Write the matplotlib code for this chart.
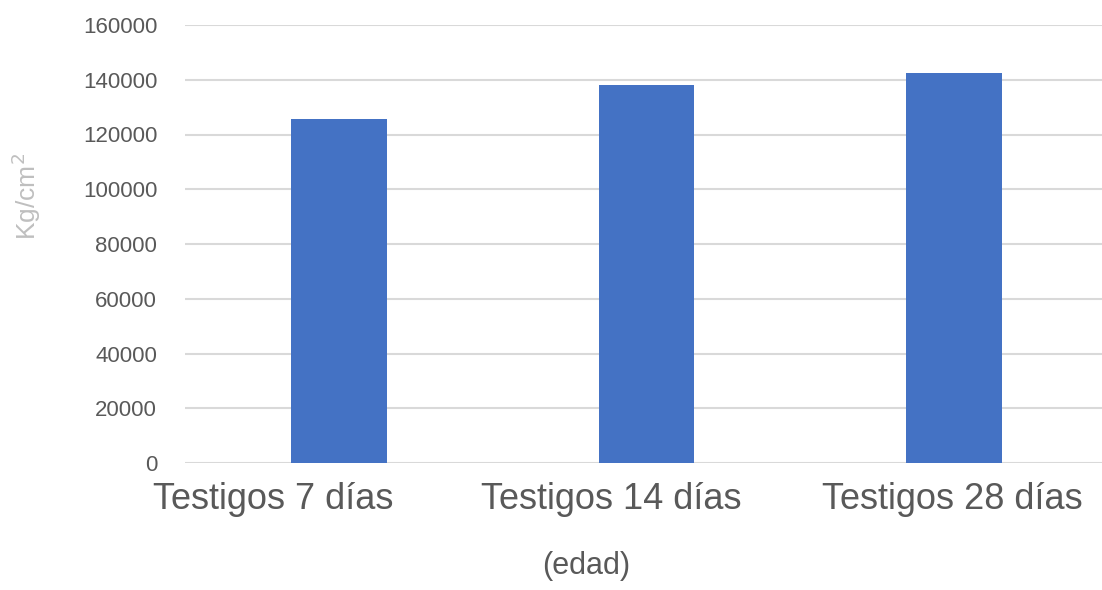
import matplotlib
matplotlib.use("Agg")
import matplotlib.pyplot as plt
import matplotlib.transforms as mtransforms
import numpy as np

# data
categories = ["Testigos 7 días", "Testigos 14 días", "Testigos 28 días"]
values = [125600, 138200, 142300]
y_ticks = [0, 20000, 40000, 60000, 80000, 100000, 120000, 140000, 160000]

plt.rcParams['font.family'] = ['Liberation Sans', 'DejaVu Sans']

fig = plt.figure(figsize=(11.02, 5.90), dpi=100)
ax = fig.add_axes([185 / 1102, 1 - 463 / 590, 923 / 1102, (463 - 25) / 590])

x = np.arange(len(categories))
ax.bar(x, values, width=0.31, color="#4472c4", zorder=3)

ax.set_ylim(0, 160000)
ax.set_xlim(-0.5, len(categories) - 0.5)
ax.set_yticks(y_ticks)
ax.set_yticklabels([str(t) for t in y_ticks])
ax.set_xticks(x)
ax.set_xticklabels(categories)

ax.yaxis.grid(True, color="#d9d9d9", linewidth=1.5, zorder=0)
ax.set_axisbelow(True)
for side in ["top", "right", "left", "bottom"]:
    ax.spines[side].set_visible(False)

ax.tick_params(axis="y", length=0, pad=20, labelsize=16, labelcolor="#595959")
ax.tick_params(axis="x", length=0, pad=14, labelsize=26, labelcolor="#595959")

# the category labels in the reference sit a bit left of their bars
shifts_px = [-66, -35, -2]
for lab, dx in zip(ax.get_xticklabels(), shifts_px):
    off = mtransforms.ScaledTranslation(dx / 100, 0, fig.dpi_scale_trans)
    lab.set_transform(lab.get_transform() + off)

fig.text(26 / 1102, 1 - 196 / 590, "Kg/cm$^2$", rotation=90, ha="center", va="center",
         fontsize=19, color="#bfbfbf")
fig.text(586 / 1102, 1 - 566 / 590, "(edad)", ha="center", va="center",
         fontsize=22, color="#595959")

fig.savefig("out.png", dpi=100)
